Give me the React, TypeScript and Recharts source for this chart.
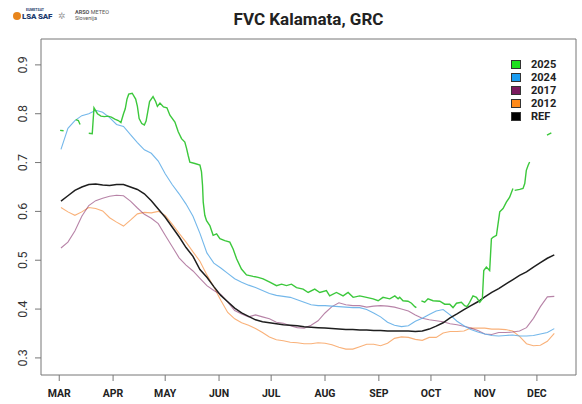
import React from 'react';
import { LineChart, Line, XAxis, YAxis, ReferenceArea, Legend } from 'recharts';

// ---- x positions (day index from 1 March) ----
const MONTH_TICKS = [0, 31, 61, 92, 122, 153, 184, 214, 245, 275];
const MONTH_LABELS = ['MAR', 'APR', 'MAY', 'JUN', 'JUL', 'AUG', 'SEP', 'OCT', 'NOV', 'DEC'];
const Y_TICKS = [0.3, 0.4, 0.5, 0.6, 0.7, 0.8, 0.9];

const DAYS = [
  1, 5, 9, 13, 17, 21, 25, 29, 33, 37, 41, 45, 49, 53, 57, 61, 65, 69, 73, 77, 81, 85, 89, 93,
  97, 101, 105, 109, 113, 117, 121, 125, 129, 133, 137, 141, 145, 149, 153, 157, 161, 165, 169, 173,
  177, 181, 185, 189, 193, 197, 201, 205, 209, 213, 217, 221, 225, 229, 233, 237, 241, 245, 249, 253,
  257, 261, 265, 269, 273, 277, 281, 285,
];

const FVC_REF = [
  0.621, 0.632, 0.643, 0.650, 0.655, 0.656, 0.654, 0.653, 0.655, 0.655, 0.650, 0.645, 0.636, 0.622, 0.605, 0.588,
  0.568, 0.548, 0.526, 0.508, 0.481, 0.465, 0.446, 0.428, 0.415, 0.402, 0.392, 0.385, 0.378, 0.374, 0.372, 0.370,
  0.368, 0.367, 0.366, 0.364, 0.363, 0.362, 0.361, 0.360, 0.359, 0.358, 0.358, 0.357, 0.357, 0.356, 0.356, 0.355,
  0.355, 0.355, 0.355, 0.354, 0.355, 0.359, 0.365, 0.372, 0.382, 0.390, 0.399, 0.407, 0.415, 0.425, 0.434, 0.442,
  0.451, 0.460, 0.469, 0.476, 0.486, 0.495, 0.504, 0.511,
];

const FVC_2024 = [
  0.727, 0.770, 0.786, 0.796, 0.800, 0.807, 0.803, 0.792, 0.778, 0.774, 0.757, 0.741, 0.726, 0.719, 0.703, 0.677,
  0.655, 0.636, 0.615, 0.590, 0.555, 0.515, 0.494, 0.484, 0.473, 0.462, 0.455, 0.449, 0.444, 0.438, 0.432, 0.428,
  0.426, 0.424, 0.419, 0.414, 0.409, 0.407, 0.407, 0.406, 0.405, 0.404, 0.403, 0.403, 0.399, 0.392, 0.384, 0.373,
  0.367, 0.364, 0.366, 0.375, 0.381, 0.389, 0.396, 0.399, 0.388, 0.375, 0.366, 0.358, 0.353, 0.349, 0.346, 0.345,
  0.346, 0.347, 0.345, 0.345, 0.346, 0.349, 0.352, 0.360,
];

const FVC_2017 = [
  0.525, 0.537, 0.560, 0.590, 0.612, 0.622, 0.627, 0.631, 0.633, 0.632, 0.621, 0.607, 0.594, 0.586, 0.575, 0.551,
  0.528, 0.505, 0.490, 0.478, 0.463, 0.448, 0.438, 0.430, 0.414, 0.397, 0.390, 0.384, 0.388, 0.384, 0.380, 0.373,
  0.371, 0.366, 0.362, 0.361, 0.367, 0.376, 0.392, 0.405, 0.413, 0.409, 0.407, 0.407, 0.404, 0.406, 0.407, 0.406,
  0.404, 0.400, 0.396, 0.388, 0.381, 0.378, 0.376, 0.374, 0.370, 0.368, 0.365, 0.361, 0.356, 0.349, 0.348, 0.352,
  0.352, 0.353, 0.355, 0.362, 0.381, 0.405, 0.425, 0.426,
];

const FVC_2012 = [
  0.608, 0.599, 0.592, 0.599, 0.608, 0.606, 0.601, 0.587, 0.578, 0.570, 0.582, 0.595, 0.598, 0.597, 0.600, 0.592,
  0.574, 0.555, 0.537, 0.517, 0.498, 0.470, 0.445, 0.418, 0.393, 0.380, 0.372, 0.367, 0.360, 0.352, 0.343, 0.337,
  0.335, 0.332, 0.331, 0.329, 0.329, 0.331, 0.330, 0.327, 0.322, 0.318, 0.318, 0.323, 0.328, 0.328, 0.325, 0.330,
  0.340, 0.343, 0.342, 0.338, 0.336, 0.342, 0.342, 0.351, 0.354, 0.354, 0.355, 0.361, 0.361, 0.361, 0.359, 0.359,
  0.358, 0.355, 0.344, 0.329, 0.325, 0.326, 0.334, 0.350,
];

// 2025 has its own (irregular) dates; null = missing data (gap)
const DAYS_2025 = [
  0.5, 2.5, 5, 9.5, 11, 12, 14, 17, 19, 20, 22, 24, 26, 28, 30, 32, 34, 35.5, 37, 38, 39, 40, 42, 44, 45, 46,
  47.5, 49, 50, 51, 52, 54, 55.5, 56.5, 58, 60, 62, 63.7, 66.6, 68.5, 70.4, 72.3, 73.3, 74.2, 75.2, 78.1, 81,
  81.9, 82.5, 82.9, 83.8, 84.8, 86.7, 88.6, 90.6, 92.5, 95.3, 98.2, 100.1, 102.1, 104.9, 107.8, 111.6, 114.5,
  117.4, 121.2, 125.1, 128, 130.8, 133.7, 136.6, 140.4, 143.3, 147.1, 150, 153.8, 155.7, 159.6, 163.4, 166.3,
  169.2, 173, 176.9, 180.7, 183.6, 186.4, 190.3, 193.2, 195.1, 196, 197.9, 200.8, 202.8, 204.7, 205.6, 207,
  208.5, 210.4, 212.3, 215.2, 219.1, 221.9, 224.8, 226.7, 228.7, 231.5, 233.4, 234.8, 236.3, 238.2, 240.2,
  242.1, 243.6, 244.4, 245.9, 247.8, 248.8, 249.7, 251.7, 253.6, 255.5, 257.4, 259.3, 261.2, 261.7, 262.2,
  265.1, 267, 268, 268.9, 269.9, 270.8, 275, 280.8, 283.3,
];
const FVC_2025 = [
  0.766, 0.765, null, 0.788, 0.786, 0.778, null, 0.760, 0.759, 0.812, 0.800, 0.795, 0.794, 0.795, 0.793, 0.789,
  0.786, 0.782, 0.800, 0.810, 0.830, 0.840, 0.842, 0.830, 0.815, 0.790, 0.780, 0.777, 0.785, 0.805, 0.825, 0.835,
  0.825, 0.815, 0.822, 0.814, 0.812, 0.797, 0.783, 0.763, 0.749, 0.742, 0.729, 0.715, 0.701, 0.698, 0.695, 0.681,
  0.653, 0.619, 0.592, 0.581, 0.571, 0.551, 0.554, 0.544, 0.540, 0.537, 0.523, 0.503, 0.482, 0.470, 0.467, 0.465,
  0.462, 0.455, 0.448, 0.451, 0.448, 0.451, 0.444, 0.441, 0.434, 0.441, 0.434, 0.438, 0.427, 0.434, 0.427, 0.434,
  0.424, 0.427, 0.424, 0.421, 0.417, 0.424, 0.421, 0.427, 0.421, 0.424, 0.417, 0.416, 0.412, 0.405, 0.403, null,
  0.417, 0.414, 0.421, 0.417, 0.416, 0.410, 0.410, 0.403, 0.412, 0.414, 0.407, 0.405, 0.414, 0.427, 0.424,
  0.414, 0.421, 0.479, 0.486, 0.479, 0.544, 0.547, 0.551, 0.599, 0.606, 0.619, 0.629, 0.647, null, 0.643,
  0.645, 0.647, 0.657, 0.684, 0.694, 0.701, null, 0.756, 0.761,
];

const SERIES = [
  { key: 'y2025', name: '2025', line: '#3cc83c', box: '#1ee01e', width: 1.4, opacity: 1 },
  { key: 'y2024', name: '2024', line: '#5aaae6', box: '#1a9cf0', width: 1.1, opacity: 0.85 },
  { key: 'y2017', name: '2017', line: '#7b1d5f', box: '#7a1a5e', width: 1.1, opacity: 0.55 },
  { key: 'y2012', name: '2012', line: '#f57d1f', box: '#ff8a1a', width: 1.1, opacity: 0.6 },
  { key: 'ref', name: 'REF', line: '#1e1e1e', box: '#000000', width: 1.5, opacity: 1 },
];

const baseRows = DAYS.map((d, i) => ({
  day: d,
  ref: FVC_REF[i],
  y2024: FVC_2024[i],
  y2017: FVC_2017[i],
  y2012: FVC_2012[i],
}));
const rows2025 = DAYS_2025.map((d, i) => ({ day: d, y2025: FVC_2025[i] }));

const X_DOMAIN: [number, number] = [-10.5, 297.5];
const Y_DOMAIN: [number, number] = [0.265, 0.953];

const YTick = (props: any) => {
  const { x, y, payload } = props;
  return (
    <g transform={`translate(${x - 6},${y})`}>
      <text transform="rotate(-90)" textAnchor="middle" x={0} y={0} fontSize={12.5}
        fill="#333" fontFamily="Roboto, sans-serif">
        {payload.value.toFixed(1)}
      </text>
    </g>
  );
};

const LegendBox = () => (
  <div style={{ fontFamily: 'Roboto, sans-serif' }}>
    {SERIES.map((s) => (
      <div key={s.key} style={{ display: 'flex', alignItems: 'center', height: 13 }}>
        <div style={{ width: 8, height: 7, background: s.box, border: '1px solid #333', marginRight: 10 }} />
        <span style={{ fontSize: 11, fontWeight: 700, color: '#222' }}>{s.name}</span>
      </div>
    ))}
  </div>
);

export default function App() {
  const order = ['y2012', 'y2017', 'y2024', 'ref'];
  return (
    <div style={{ position: 'fixed', left: 0, top: 0, width: 582, height: 404, background: '#fff', fontFamily: 'Roboto, sans-serif' }}>
      {/* logos */}
      <div style={{ position: 'absolute', left: 13, top: 12, width: 8, height: 8, borderRadius: 4, background: '#e8851c' }} />
      <div style={{ position: 'absolute', left: 26, top: 8, fontSize: 3.5, color: '#1d3a6e', fontWeight: 700 }}>EUMETSAT</div>
      <div style={{ position: 'absolute', left: 22, top: 12, fontSize: 8, color: '#1d3a6e', fontWeight: 900, letterSpacing: -0.2 }}>LSA SAF</div>
      <div style={{ position: 'absolute', left: 58, top: 11, fontSize: 9, color: '#999' }}>✲</div>
      <div style={{ position: 'absolute', left: 75, top: 9, fontSize: 5.5, color: '#555', lineHeight: '6px' }}>
        <b>ARSO</b> METEO<br />Slovenija
      </div>
      {/* title */}
      <div style={{ position: 'absolute', left: 41, width: 535, top: 9, textAlign: 'center', fontSize: 17, fontWeight: 700, color: '#222' }}>
        FVC Kalamata, GRC
      </div>
      <LineChart width={582} height={404} data={baseRows} margin={{ top: 39, right: 6, left: 0, bottom: 0 }}>
        <XAxis dataKey="day" type="number" domain={X_DOMAIN} ticks={MONTH_TICKS} allowDataOverflow
          tickFormatter={(v: number) => MONTH_LABELS[MONTH_TICKS.indexOf(v)]}
          height={29} tickSize={6} tickMargin={9} axisLine={false} tickLine={{ stroke: '#777' }}
          tick={{ fontSize: 10.5, fontWeight: 700, fill: '#222', fontFamily: 'Roboto, sans-serif' }} />
        <YAxis type="number" domain={Y_DOMAIN} ticks={Y_TICKS} allowDataOverflow width={41}
          tickSize={6} axisLine={false} tickLine={{ stroke: '#777' }} tick={<YTick />} />
        <ReferenceArea x1={X_DOMAIN[0]} x2={X_DOMAIN[1]} y1={Y_DOMAIN[0]} y2={Y_DOMAIN[1]}
          fill="none" fillOpacity={0} stroke="#777" strokeWidth={1} />
        {order.map((k) => {
          const s = SERIES.find((q) => q.key === k)!;
          return (
            <Line key={k} dataKey={k} name={s.name} stroke={s.line} strokeWidth={s.width} strokeOpacity={s.opacity}
              dot={false} activeDot={false} isAnimationActive={false} type="linear" />
          );
        })}
        <Line data={rows2025} dataKey="y2025" name="2025" stroke={SERIES[0].line} strokeWidth={SERIES[0].width}
          dot={false} activeDot={false} isAnimationActive={false} connectNulls={false} type="linear" />
        <Legend layout="horizontal" verticalAlign="middle" align="center" content={<LegendBox />}
          wrapperStyle={{ position: 'absolute', left: 511, top: 58, width: 60 }} />
      </LineChart>
    </div>
  );
}
